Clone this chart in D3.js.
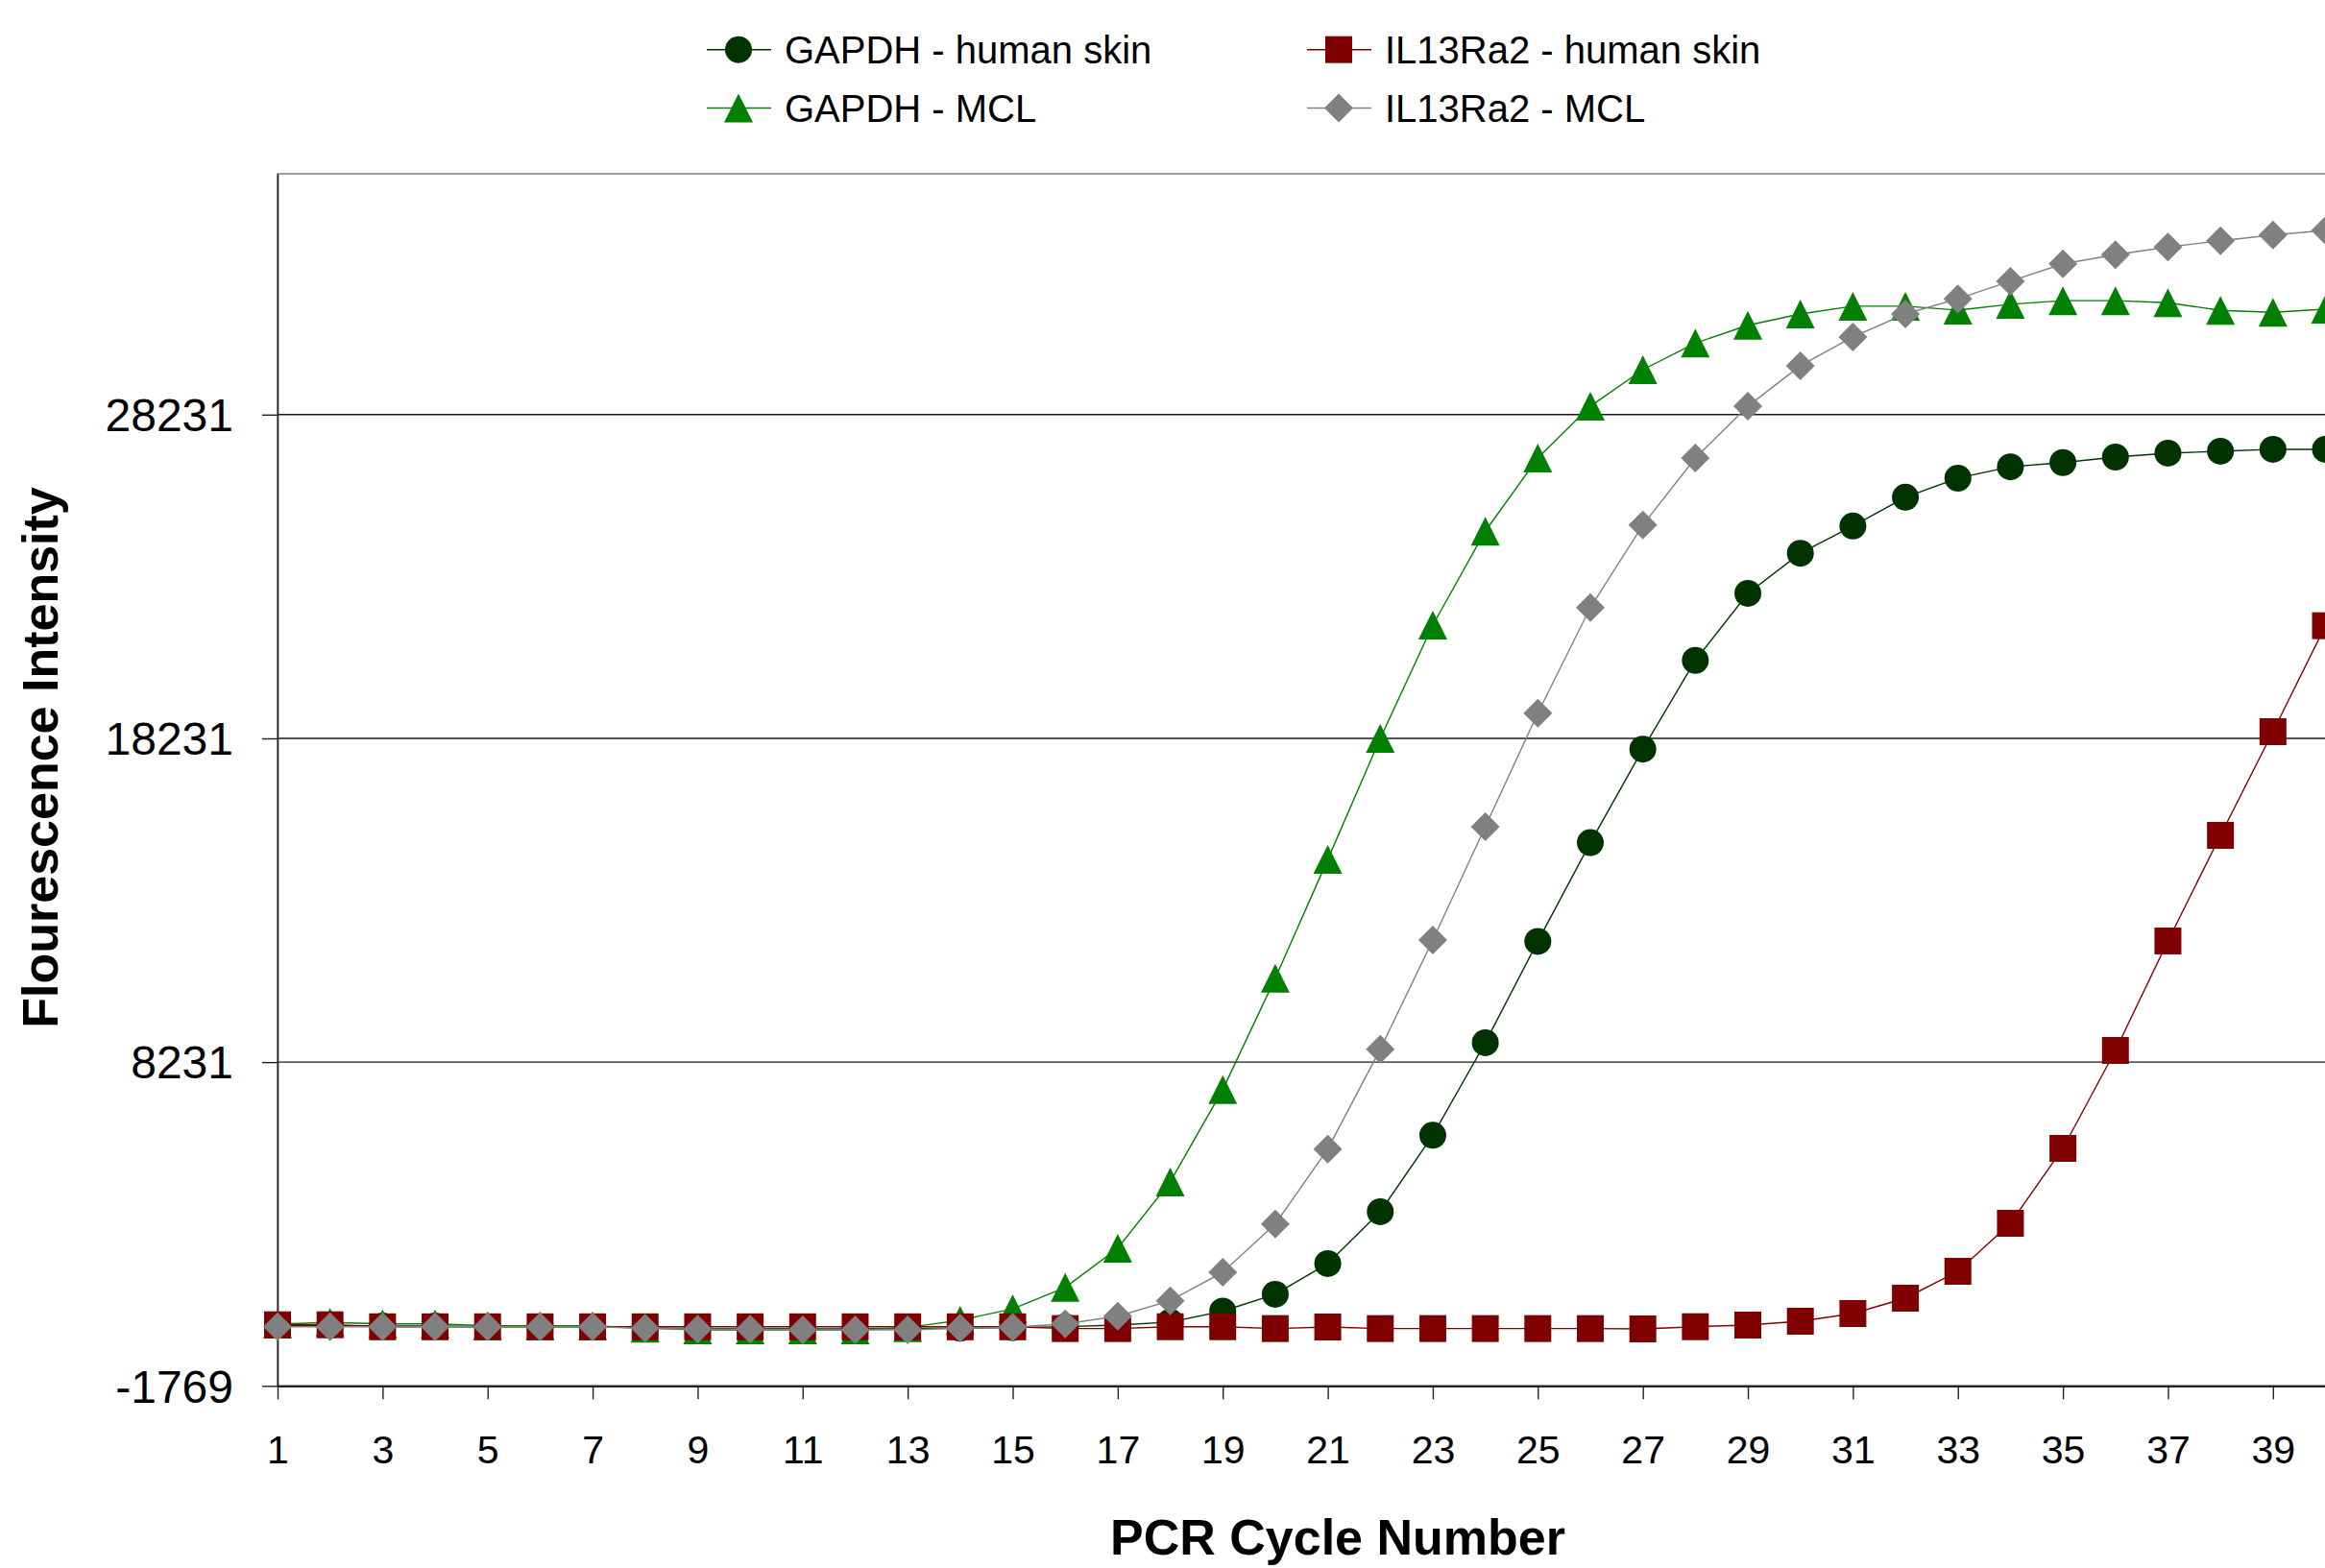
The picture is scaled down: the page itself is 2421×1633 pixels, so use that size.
<!DOCTYPE html>
<html>
<head>
<meta charset="utf-8">
<script src="https://cdn.jsdelivr.net/npm/d3@7"></script>
<style>
  body { margin: 0; background: #ffffff; }
  svg { display: block; font-family: "Liberation Sans", Arial, sans-serif; }
</style>
</head>
<body>
<svg id="Chart"></svg>
<script>
// PCR cycle numbers (x categories)
const cycles = [1, 2, 3, 4, 5, 6, 7, 8, 9, 10, 11, 12, 13, 14, 15, 16, 17, 18, 19, 20,
  21, 22, 23, 24, 25, 26, 27, 28, 29, 30, 31, 32, 33, 34, 35, 36, 37, 38, 39, 40];

// Fluorescence values
const gapdhSkin = [100, 100, 80, 80, 60, 60, 60, 20, 0, 0, -10, -10, 0, 10, 30, 60, 110, 200, 540, 1060,
  2010, 3610, 5970, 8830, 11960, 15010, 17900, 20640, 22710, 23950, 24790, 25680, 26270, 26620, 26750, 26920, 27040, 27100, 27160, 27160];
const gapdhMcl = [140, 190, 145, 145, 85, 85, 85, 15, -40, -40, -40, -40, 30, 260, 610, 1270, 2480, 4530, 7380, 10820,
  14490, 18230, 21730, 24630, 26890, 28490, 29620, 30440, 30990, 31340, 31580, 31580, 31460, 31640, 31750, 31750, 31690, 31450, 31390, 31490];
const il13Skin = [117, 117, 55, 55, 55, 55, 55, 55, 55, 55, 55, 55, 55, 55, 55, 0, 0, 58, 58, 0,
  49, 0, 0, 0, 0, 0, -10, 58, 109, 227, 464, 939, 1769, 3253, 5566, 8591, 11973, 15235, 18438, 21710];
const il13Mcl = [58, 58, 58, 58, 58, 58, 58, 10, -19, -19, -40, -40, -40, 10, 40, 147, 384, 860, 1740, 3230,
  5545, 8630, 12000, 15500, 19010, 22270, 24820, 26890, 28490, 29740, 30630, 31340, 31810, 32350, 32890, 33170, 33410, 33600, 33780, 33920];

const seriesNames = ["GAPDH - human skin", "GAPDH - MCL", "IL13Ra2 - human skin", "IL13Ra2 - MCL"];
const yTickValues = [-1769, 8231, 18231, 28231];
const xTickValues = [1, 3, 5, 7, 9, 11, 13, 15, 17, 19, 21, 23, 25, 27, 29, 31, 33, 35, 37, 39];
const yAxisMax = 35670;

const size = { width: 2421, height: 1633 };
const plot = { left: 289, top: 181, right: 2421.5, bottom: 1443.3 };
const font = "'Liberation Sans', Arial, sans-serif";

// Marker shapes, centred on their bounding box like Excel does
const markers = {
  circle: d3.symbol(d3.symbolCircle, Math.PI * 14 * 14)(),
  triangle: "M0,-15L15,15L-15,15Z",
  square: "M-14,-14h28v28h-28Z",
  diamond: "M0,-15L15,0L0,15L-15,0Z"
};

const series = [
  { name: seriesNames[0], values: gapdhSkin, color: "#003300", marker: "circle" },
  { name: seriesNames[1], values: gapdhMcl, color: "#008000", marker: "triangle" },
  { name: seriesNames[2], values: il13Skin, color: "#800000", marker: "square" },
  { name: seriesNames[3], values: il13Mcl, color: "#808080", marker: "diamond" }
];

const svg = d3.select("#Chart")
  .attr("width", size.width)
  .attr("height", size.height);

// Scales
const x = d3.scaleLinear()
  .domain([cycles[0], cycles[cycles.length - 1]])
  .range([plot.left, plot.right]);

const y = d3.scaleLinear()
  .domain([yTickValues[0], yAxisMax])
  .range([plot.bottom, plot.top]);

// Plot area border (top and left, right side runs off the picture)
svg.append("rect")
  .attr("x", plot.left)
  .attr("y", plot.top)
  .attr("width", size.width - plot.left + 20)
  .attr("height", plot.bottom - plot.top)
  .attr("fill", "none")
  .attr("stroke", "#808080")
  .attr("stroke-width", 1.5);

// Horizontal gridlines
svg.append("g")
  .selectAll("line")
  .data(yTickValues.slice(1))
  .enter()
  .append("line")
  .attr("x1", plot.left)
  .attr("x2", size.width + 10)
  .attr("y1", d => y(d))
  .attr("y2", d => y(d))
  .attr("stroke", "#1a1a1a")
  .attr("stroke-width", 1.4);

// Y axis
const yAxis = d3.axisLeft(y)
  .tickValues(yTickValues)
  .tickFormat(d => d)
  .tickSize(16)
  .tickSizeOuter(0)
  .tickPadding(30);

const yAxisG = svg.append("g")
  .attr("transform", `translate(${ plot.left }, 0)`)
  .call(yAxis);
yAxisG.select(".domain").attr("stroke", "#222").attr("stroke-width", 1.6);
yAxisG.selectAll(".tick line").attr("stroke", "#222").attr("stroke-width", 1.4);
yAxisG.selectAll(".tick text")
  .attr("font-family", font)
  .attr("font-size", "48px")
  .attr("fill", "#000")
  .attr("dy", "0.35em");

// X axis
const xAxis = d3.axisBottom(x)
  .tickValues(xTickValues)
  .tickFormat(d => d)
  .tickSize(14)
  .tickSizeOuter(0)
  .tickPadding(38);

const xAxisG = svg.append("g")
  .attr("transform", `translate(0, ${ plot.bottom })`)
  .call(xAxis);
xAxisG.select(".domain").attr("stroke", "#222").attr("stroke-width", 2.2);
xAxisG.selectAll(".tick line").attr("stroke", "#222").attr("stroke-width", 1.4);
xAxisG.selectAll(".tick text")
  .attr("font-family", font)
  .attr("font-size", "41px")
  .attr("fill", "#000");

// Lines and markers, one series after another so later ones sit on top
const line = d3.line()
  .x((d, i) => x(cycles[i]))
  .y(d => y(d));

series.forEach(s =>
{
  const g = svg.append("g").attr("class", "series");

  g.append("path")
    .datum(s.values)
    .attr("fill", "none")
    .attr("stroke", s.color)
    .attr("stroke-width", 1.4)
    .attr("d", line);

  g.selectAll(".marker")
    .data(s.values)
    .enter()
    .append("path")
    .attr("class", "marker")
    .attr("d", markers[s.marker])
    .attr("transform", (d, i) => `translate(${ x(cycles[i]) }, ${ y(d) })`)
    .attr("fill", s.color);
});

// Axis titles
svg.append("text")
  .attr("x", 1393)
  .attr("y", 1619)
  .attr("text-anchor", "middle")
  .attr("font-family", font)
  .attr("font-size", "52px")
  .attr("font-weight", "bold")
  .text("PCR Cycle Number");

svg.append("text")
  .attr("transform", "translate(60, 789) rotate(-90)")
  .attr("text-anchor", "middle")
  .attr("font-family", font)
  .attr("font-size", "52px")
  .attr("font-weight", "bold")
  .text("Flourescence Intensity");

// Legend, two columns of two
const legendPos = [
  { x: 769, y: 51.7 },
  { x: 769, y: 112.5 },
  { x: 1394, y: 51.7 },
  { x: 1394, y: 112.5 }
];

const legend = svg.append("g")
  .selectAll("g")
  .data(series)
  .enter()
  .append("g")
  .attr("transform", (d, i) => `translate(${ legendPos[i].x }, ${ legendPos[i].y })`);

legend.append("line")
  .attr("x1", -33)
  .attr("x2", 34)
  .attr("stroke", d => d.color)
  .attr("stroke-width", 1.4);

legend.append("path")
  .attr("d", d => markers[d.marker])
  .attr("fill", d => d.color);

legend.append("text")
  .attr("x", 48)
  .attr("y", 14)
  .attr("font-family", font)
  .attr("font-size", "40px")
  .attr("fill", "#000")
  .text(d => d.name);
</script>
</body>
</html>
